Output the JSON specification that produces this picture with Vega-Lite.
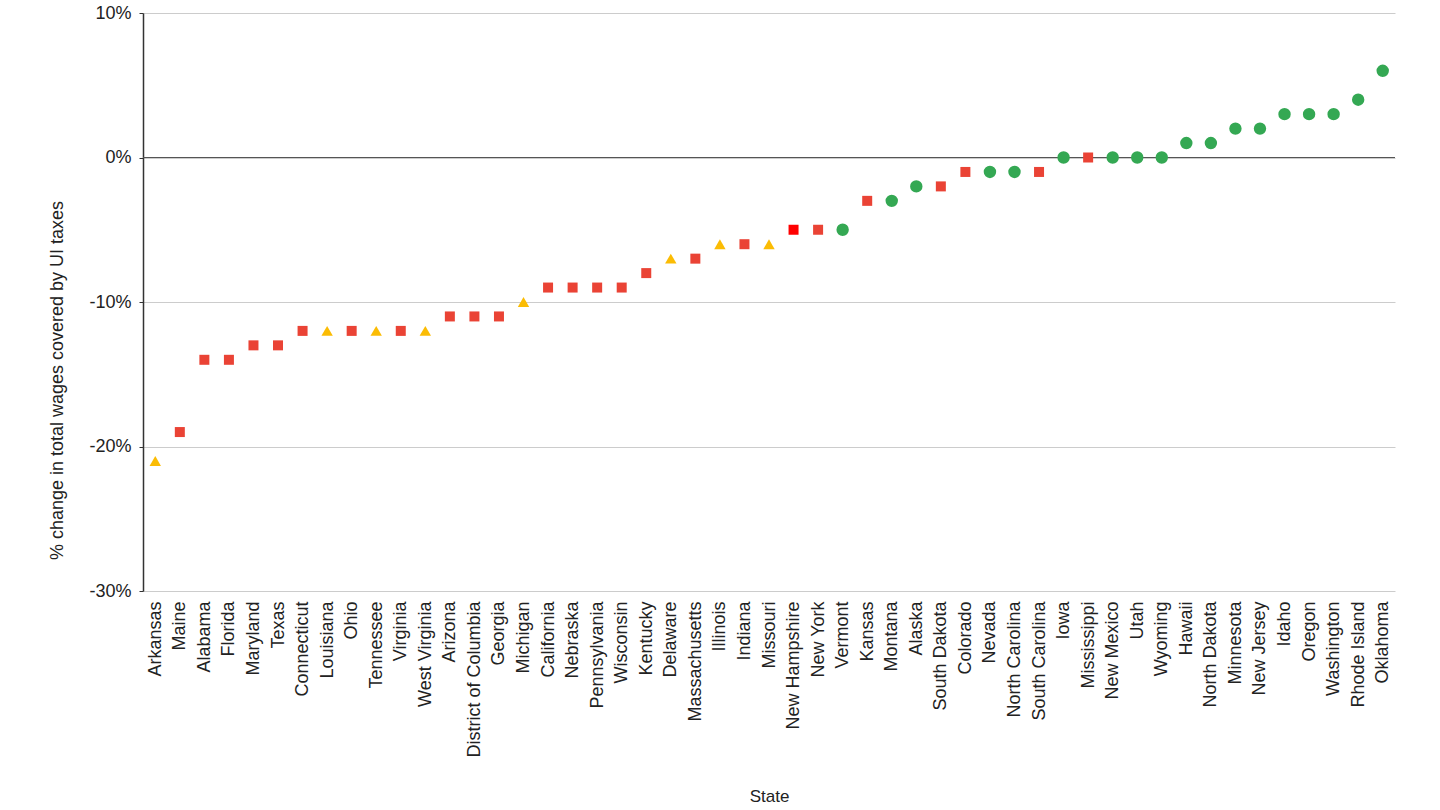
{
  "$schema": "https://vega.github.io/schema/vega-lite/v6.json",
  "autosize": "none",
  "width": 1252,
  "height": 578,
  "padding": {"left": 143, "top": 13, "right": 45, "bottom": 219},
  "background": "white",
  "config": {
    "font": "Liberation Sans",
    "view": {"stroke": null},
    "axis": {"labelFont": "Liberation Sans", "titleFont": "Liberation Sans", "labelColor": "#222222", "titleColor": "#222222", "titleFontWeight": "normal"}
  },
  "data": {"values": [
    {"state": "Arkansas", "change": -21, "group": "C"},
    {"state": "Maine", "change": -19, "group": "B"},
    {"state": "Alabama", "change": -14, "group": "B"},
    {"state": "Florida", "change": -14, "group": "B"},
    {"state": "Maryland", "change": -13, "group": "B"},
    {"state": "Texas", "change": -13, "group": "B"},
    {"state": "Connecticut", "change": -12, "group": "B"},
    {"state": "Louisiana", "change": -12, "group": "C"},
    {"state": "Ohio", "change": -12, "group": "B"},
    {"state": "Tennessee", "change": -12, "group": "C"},
    {"state": "Virginia", "change": -12, "group": "B"},
    {"state": "West Virginia", "change": -12, "group": "C"},
    {"state": "Arizona", "change": -11, "group": "B"},
    {"state": "District of Columbia", "change": -11, "group": "B"},
    {"state": "Georgia", "change": -11, "group": "B"},
    {"state": "Michigan", "change": -10, "group": "C"},
    {"state": "California", "change": -9, "group": "B"},
    {"state": "Nebraska", "change": -9, "group": "B"},
    {"state": "Pennsylvania", "change": -9, "group": "B"},
    {"state": "Wisconsin", "change": -9, "group": "B"},
    {"state": "Kentucky", "change": -8, "group": "B"},
    {"state": "Delaware", "change": -7, "group": "C"},
    {"state": "Massachusetts", "change": -7, "group": "B"},
    {"state": "Illinois", "change": -6, "group": "C"},
    {"state": "Indiana", "change": -6, "group": "B"},
    {"state": "Missouri", "change": -6, "group": "C"},
    {"state": "New Hampshire", "change": -5, "group": "D"},
    {"state": "New York", "change": -5, "group": "B"},
    {"state": "Vermont", "change": -5, "group": "A"},
    {"state": "Kansas", "change": -3, "group": "B"},
    {"state": "Montana", "change": -3, "group": "A"},
    {"state": "Alaska", "change": -2, "group": "A"},
    {"state": "South Dakota", "change": -2, "group": "B"},
    {"state": "Colorado", "change": -1, "group": "B"},
    {"state": "Nevada", "change": -1, "group": "A"},
    {"state": "North Carolina", "change": -1, "group": "A"},
    {"state": "South Carolina", "change": -1, "group": "B"},
    {"state": "Iowa", "change": 0, "group": "A"},
    {"state": "Mississippi", "change": 0, "group": "B"},
    {"state": "New Mexico", "change": 0, "group": "A"},
    {"state": "Utah", "change": 0, "group": "A"},
    {"state": "Wyoming", "change": 0, "group": "A"},
    {"state": "Hawaii", "change": 1, "group": "A"},
    {"state": "North Dakota", "change": 1, "group": "A"},
    {"state": "Minnesota", "change": 2, "group": "A"},
    {"state": "New Jersey", "change": 2, "group": "A"},
    {"state": "Idaho", "change": 3, "group": "A"},
    {"state": "Oregon", "change": 3, "group": "A"},
    {"state": "Washington", "change": 3, "group": "A"},
    {"state": "Rhode Island", "change": 4, "group": "A"},
    {"state": "Oklahoma", "change": 6, "group": "A"}
  ]},
  "layer": [
    {
      "mark": {"type": "rule", "color": "#555555", "strokeWidth": 1.2},
      "encoding": {"y": {"datum": 0, "type": "quantitative"}}
    },
    {
      "mark": {"type": "point", "filled": true, "opacity": 1},
      "encoding": {
        "x": {
          "field": "state", "type": "nominal", "sort": null,
          "scale": {"type": "point", "padding": 0.5},
          "axis": {
            "title": "State", "titleFontSize": 17, "titlePadding": 31,
            "labelAngle": -90, "labelFontSize": 18, "labelPadding": 10,
            "ticks": false, "domain": false, "grid": false
          }
        },
        "y": {
          "field": "change", "type": "quantitative",
          "scale": {"domain": [-30, 10], "nice": false, "zero": false},
          "axis": {
            "title": "% change in total wages covered by UI taxes",
            "titleFontSize": 18, "titlePadding": 22, "titleY": 367, "titleAlign": "center",
            "values": [-30, -20, -10, 0, 10],
            "labelExpr": "datum.value + '%'",
            "labelFontSize": 18, "labelPadding": 8,
            "ticks": true, "tickSize": 4, "tickColor": "#333333",
            "domain": true, "domainColor": "#333333", "domainWidth": 1.5,
            "grid": true, "gridColor": "#cccccc", "gridWidth": 1
          }
        },
        "color": {
          "field": "group", "type": "nominal", "legend": null,
          "scale": {"domain": ["A", "B", "C", "D"], "range": ["#34a853", "#ea4335", "#fbbc04", "#ff0000"]}
        },
        "shape": {
          "field": "group", "type": "nominal", "legend": null,
          "scale": {"domain": ["A", "B", "C", "D"], "range": ["circle", "square", "triangle-up", "square"]}
        },
        "size": {
          "field": "group", "type": "nominal", "legend": null,
          "scale": {"type": "ordinal", "domain": ["A", "B", "C", "D"], "range": [154, 100, 130, 100]}
        }
      }
    }
  ]
}
